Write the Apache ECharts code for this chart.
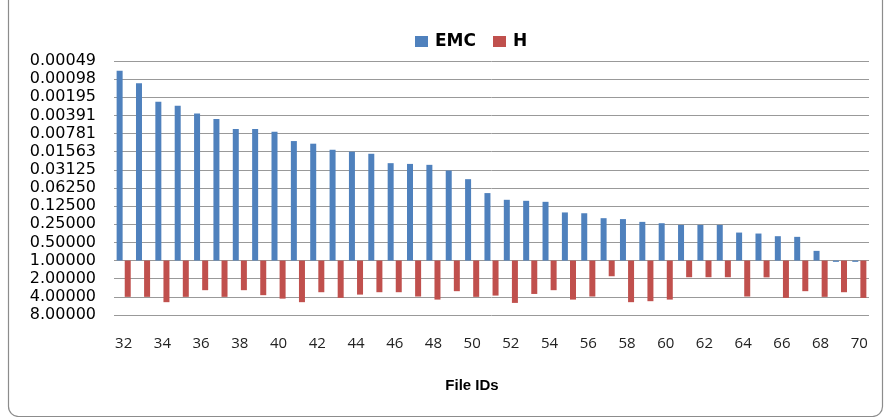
<!DOCTYPE html>
<html>
<head>
<meta charset="utf-8">
<script src="https://cdn.jsdelivr.net/npm/echarts@6/dist/echarts.min.js"></script>
<style>html,body{margin:0;padding:0;background:#fff}#c{width:885px;height:417px}</style>
</head>
<body>
<div id="c"></div>
<script>
const categories = ['32','33','34','35','36','37','38','39','40','41','42','43','44','45','46','47','48','49','50','51','52','53','54','55','56','57','58','59','60','61','62','63','64','65','66','67','68','69','70'];
const emcValues = [0.00071,0.00114,0.00232,0.0027,0.00363,0.00448,0.00657,0.00657,0.00729,0.0104,0.0115,0.0145,0.0156,0.0169,0.0242,0.0249,0.0258,0.0321,0.0446,0.0759,0.0981,0.102,0.106,0.159,0.164,0.198,0.205,0.228,0.24,0.256,0.256,0.256,0.343,0.356,0.394,0.404,0.69,1.05,1.05];
const hValues = [4.0,4.0,4.9,4.0,3.1,4.0,3.1,3.75,4.28,4.9,3.35,4.16,3.67,3.35,3.35,3.95,4.44,3.22,4.0,3.81,5.04,3.58,3.1,4.44,3.95,1.82,4.9,4.72,4.44,1.89,1.89,1.89,3.95,1.9,4.16,3.22,4.0,3.35,4.16];
const yTickLabels = ['0.00049','0.00098','0.00195','0.00391','0.00781','0.01563','0.03125','0.06250','0.12500','0.25000','0.50000','1.00000','2.00000','4.00000','8.00000'];
const seriesNames = ['EMC','H'];

const chart = echarts.init(document.getElementById('c'));
chart.setOption({
  animation: false,
  graphic: [{
    type: 'rect', left: 6, top: -20, silent: true,
    shape: { width: 874, height: 434, r: 10 },
    style: { fill: 'none', stroke: '#8c8c8c', lineWidth: 1.2 }
  }],
  legend: {
    top: 28, left: 410,
    itemWidth: 13, itemHeight: 11, itemGap: 17,
    icon: 'rect',
    textStyle: { fontFamily: 'DejaVu Sans', fontWeight: 'bold', fontSize: 17, color: '#000', padding: [0, 0, 0, 2] },
    data: seriesNames
  },
  grid: { left: 114, right: 16, top: 61, bottom: 102 },
  xAxis: {
    type: 'category', data: categories,
    axisLine: { show: false }, axisTick: { show: false },
    axisLabel: { interval: 1, margin: 21, fontFamily: 'Open Sans', fontSize: 15, color: '#222' },
    name: 'File IDs', nameLocation: 'middle', nameGap: 63,
    nameTextStyle: { fontFamily: 'Liberation Sans', fontWeight: 'bold', fontSize: 15, color: '#000', padding: [0, 39, 0, 0] }
  },
  yAxis: {
    type: 'log', logBase: 2, inverse: true,
    min: Math.pow(2, -11), max: 8, interval: 1, splitNumber: 14,
    axisLine: { show: false }, axisTick: { show: false },
    splitLine: { lineStyle: { color: '#999', width: 1 } },
    axisLabel: {
      margin: 18, fontFamily: 'DejaVu Sans', fontSize: 16, color: '#000',
      formatter: v => yTickLabels[Math.round(Math.log2(v)) + 11]
    }
  },
  series: [
    { name: seriesNames[0], type: 'bar', data: emcValues, barWidth: 6, barGap: '35%', itemStyle: { color: '#4F81BD' } },
    { name: seriesNames[1], type: 'bar', data: hValues, barWidth: 6, barGap: '35%', itemStyle: { color: '#C0504D' } }
  ]
});
</script>
</body>
</html>
